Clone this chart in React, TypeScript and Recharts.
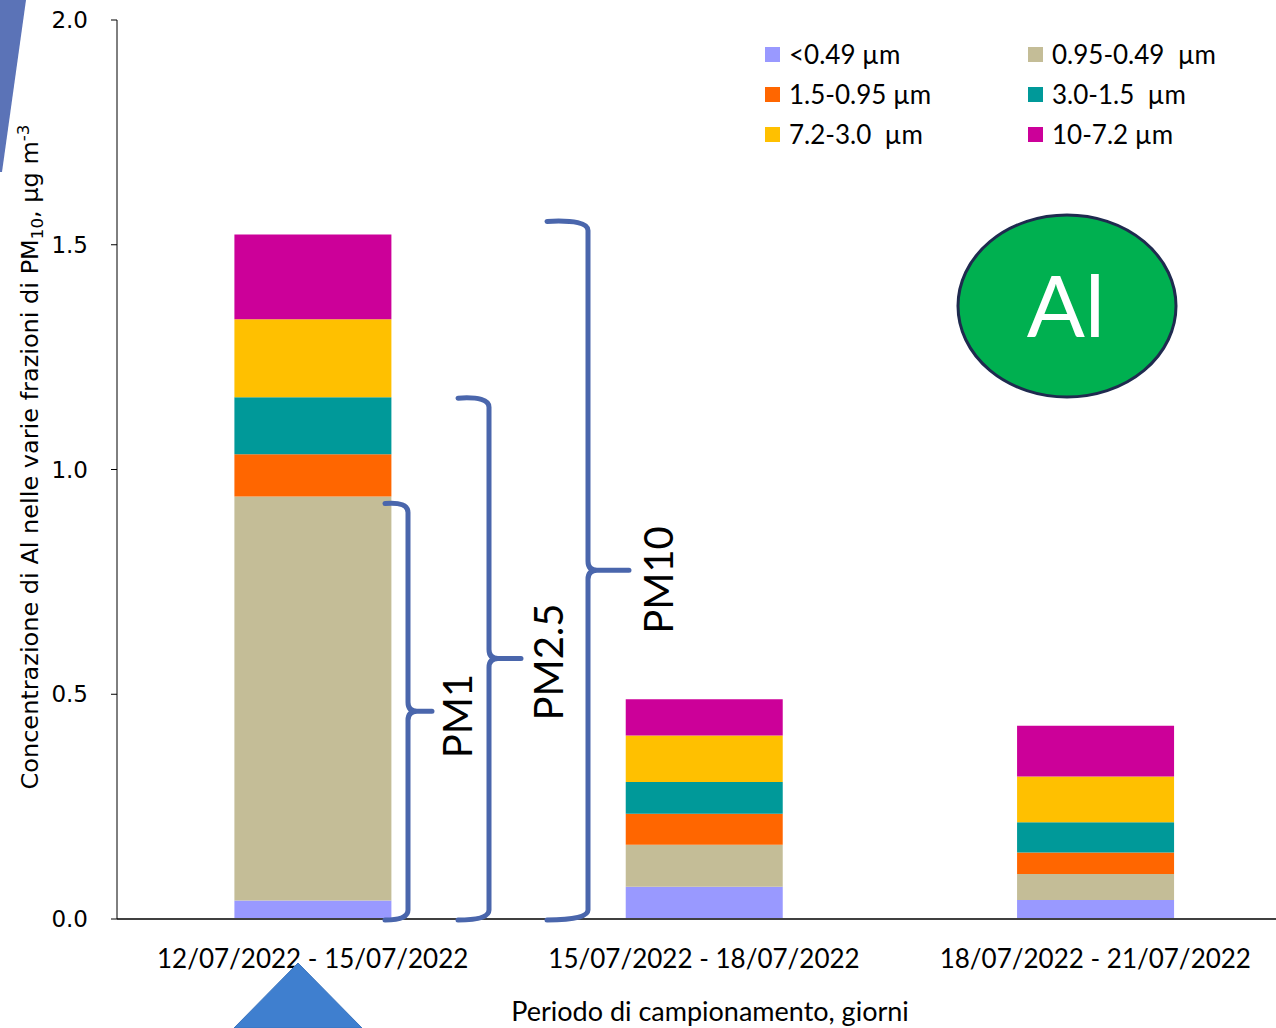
import React from 'react';
import { BarChart, Bar, XAxis, YAxis } from 'recharts';

// Sampling periods on the x axis
const categories = [
  '12/07/2022 - 15/07/2022',
  '15/07/2022 - 18/07/2022',
  '18/07/2022 - 21/07/2022',
];

// Al concentration per size fraction (µg m-3), one value per period
const frac049 = [0.041, 0.072, 0.042];
const frac095 = [0.899, 0.093, 0.058];
const frac15 = [0.094, 0.069, 0.048];
const frac30 = [0.127, 0.071, 0.067];
const frac72 = [0.173, 0.103, 0.102];
const frac10 = [0.189, 0.081, 0.113];

const seriesNames = ['<0.49 µm', '0.95-0.49  µm', '1.5-0.95 µm', '3.0-1.5  µm', '7.2-3.0  µm', '10-7.2 µm'];
const seriesKeys = ['f049', 'f095', 'f15', 'f30', 'f72', 'f10'];
const seriesColors = ['#9999FF', '#C4BD97', '#FF6600', '#009999', '#FFC000', '#CC0099'];
const seriesValues = [frac049, frac095, frac15, frac30, frac72, frac10];

const yTicks = [0, 0.5, 1, 1.5, 2];

const data = categories.map((name, i) => {
  const row: Record<string, number | string> = { name };
  seriesKeys.forEach((k, s) => {
    row[k] = seriesValues[s][i];
  });
  return row;
});

// Chart geometry
const W = 1300;
const H = 1028;
const M = { top: 20, right: 9, bottom: 0, left: 0 };
const Y_AXIS_W = 117;
const X_AXIS_H = 109;
const plotTop = M.top;
const plotBottom = H - M.bottom - X_AXIS_H;
const yMax = 2;
const yPix = (v: number) => plotBottom - (v / yMax) * (plotBottom - plotTop);

// cumulative heights of the first period, used for the PM brackets
const cum = (n: number) => seriesValues.slice(0, n).reduce((a, s) => a + s[0], 0);
const pm1 = cum(2);
const pm25 = cum(4);
const pm10 = cum(6);

const LABEL_FONT = 'Lato, "Open Sans", sans-serif';
const BRACE = '#4A66AC';

function CategoryTick(props: any) {
  const { x, y, payload } = props;
  return (
    <text x={x} y={y + 49} textAnchor="middle" fontFamily={LABEL_FONT} fontSize={26} fill="#000">
      {payload.value}
    </text>
  );
}

// Curly brace opening to the right: hooks on the left, tip pointing right
function brace(xl: number, xv: number, xt: number, yTop: number, yBot: number) {
  const ym = (yTop + yBot) / 2;
  const r = 9;
  return [
    `M ${xl} ${yTop} Q ${xv} ${yTop - 2} ${xv} ${yTop + r}`,
    `L ${xv} ${ym - r}`,
    `Q ${xv} ${ym} ${xv + r} ${ym}`,
    `L ${xt} ${ym}`,
    `M ${xv + r} ${ym} Q ${xv} ${ym} ${xv} ${ym + r}`,
    `L ${xv} ${yBot - r}`,
    `Q ${xv} ${yBot + 1} ${xl} ${yBot + 1}`,
  ].join(' ');
}

function Overlay() {
  const braces = [
    { xl: 385, xv: 408, xt: 432, top: yPix(pm1) + 7, label: 'PM1', lx: 472, ly: 716 },
    { xl: 458, xv: 489, xt: 521, top: yPix(pm25) + 1, label: 'PM2.5', lx: 563, ly: 662 },
    { xl: 547, xv: 588, xt: 629, top: yPix(pm10) - 13, label: 'PM10', lx: 673, ly: 580 },
  ];
  return (
    <svg width={1276} height={1028} style={{ position: 'absolute', left: 0, top: 0, pointerEvents: 'none' }}>
      {/* slide decorations */}
      <polygon points="0,0 26,0 2,172 0,172" fill="#5B73B7" />
      <polygon points="298,963 362,1028 234,1028" fill="#3F7FCF" stroke="#3A74BE" strokeWidth={1} />

      {braces.map((b) => (
        <g key={b.label}>
          <path
            d={brace(b.xl, b.xv, b.xt, b.top, plotBottom)}
            fill="none"
            stroke={BRACE}
            strokeWidth={5}
            strokeLinecap="round"
            strokeLinejoin="round"
          />
          <text
            x={b.lx}
            y={b.ly}
            transform={`rotate(-90 ${b.lx} ${b.ly})`}
            textAnchor="middle"
            fontFamily={LABEL_FONT}
            fontSize={40}
            fill="#000"
          >
            {b.label}
          </text>
        </g>
      ))}

      {/* element badge */}
      <ellipse cx={1067} cy={306} rx={109} ry={91} fill="#00B050" stroke="#1F2A4F" strokeWidth={3} />
      <text x={1066} y={337} textAnchor="middle" fontFamily={LABEL_FONT} fontWeight={400} fontSize={86} fill="#FFFFFF">
        Al
      </text>

      {/* y axis title */}
      <text
        x={38}
        y={457}
        transform="rotate(-90 38 457)"
        textAnchor="middle"
        fontFamily='"Liberation Sans Narrow", "DejaVu Sans Condensed", Roboto, sans-serif'
        fontStretch="condensed"
        fontSize={23}
        fill="#000"
        textLength={665}
        lengthAdjust="spacingAndGlyphs"
      >
        Concentrazione di Al nelle varie frazioni di PM
        <tspan fontSize={16} dy={5}>10</tspan>
        <tspan dy={-5}>, µg m</tspan>
        <tspan fontSize={16} dy={-9}>-3</tspan>
      </text>

      {/* x axis title */}
      <text x={710} y={1021} textAnchor="middle" fontFamily={LABEL_FONT} fontSize={27} fill="#000">
        Periodo di campionamento, giorni
      </text>
    </svg>
  );
}

function LegendBox() {
  const colX = [765, 1028];
  const rowY = [54, 94, 134];
  return (
    <div style={{ position: 'absolute', left: 0, top: 0 }}>
      {seriesNames.map((n, i) => {
        const cx = colX[i % 2];
        const cy = rowY[Math.floor(i / 2)];
        return (
          <div key={n} style={{ position: 'absolute', left: cx, top: cy - 16, height: 32, display: 'flex', alignItems: 'center', whiteSpace: 'pre' }}>
            <span style={{ display: 'inline-block', width: 15, height: 15, background: seriesColors[i], marginRight: 9 }} />
            <span style={{ fontFamily: LABEL_FONT, fontSize: 26, color: '#000', lineHeight: '32px' }}>{n}</span>
          </div>
        );
      })}
    </div>
  );
}

export default function App() {
  return (
    <div style={{ position: 'absolute', left: 0, top: 0, width: 1276, height: 1028, overflow: 'hidden', background: '#fff' }}>
      <BarChart width={W} height={H} data={data} margin={M} barCategoryGap="30%">
        <XAxis
          dataKey="name"
          height={X_AXIS_H}
          tickLine={false}
          tickSize={0}
          tickMargin={0}
          axisLine={{ stroke: '#404040', strokeWidth: 2 }}
          tick={<CategoryTick />}
          interval={0}
        />
        <YAxis
          width={Y_AXIS_W}
          domain={[0, yMax]}
          ticks={yTicks}
          tickFormatter={(v: number) => v.toFixed(1)}
          axisLine={{ stroke: '#000', strokeWidth: 1 }}
          tickLine={{ stroke: '#000' }}
          tickSize={6}
          tickMargin={23}
          tick={{ fontFamily: '"DejaVu Sans", Verdana, sans-serif', fontSize: 23, fill: '#000' }}
        />
        {seriesKeys.map((k, i) => (
          <Bar key={k} dataKey={k} name={seriesNames[i]} stackId="a" fill={seriesColors[i]} isAnimationActive={false} />
        ))}
      </BarChart>
      <Overlay />
      <LegendBox />
    </div>
  );
}
